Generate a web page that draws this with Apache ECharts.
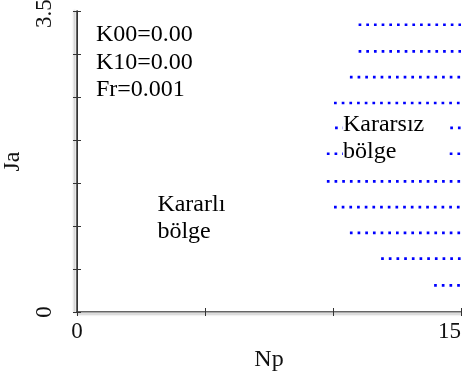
<!DOCTYPE html>
<html>
<head>
<meta charset="utf-8">
<script src="https://cdn.jsdelivr.net/npm/echarts@6/dist/echarts.min.js"></script>
<style>
  html, body { margin: 0; padding: 0; background: #fff; }
  #main { width: 462px; height: 379px; }
</style>
</head>
<body>
<div id="main"></div>
<script>
// Ja levels of the unstable rows and the Np where each row starts
const jaLevels = [0.31, 0.62, 0.92, 1.22, 1.52, 1.84, 2.14, 2.43, 2.73, 3.03, 3.34];
const npStart = [13.95, 11.88, 10.66, 10.04, 9.76, 9.76, 10.08, 10.04, 10.66, 11.0, 11.0];
const npEnd = 15;

const xTicks = [0, 15];
const yTicks = [0, 3.5];

// text notes: [Np, Ja, text, right padding of white box]
const notes = [
  [0.74, 3.38, 'K00=0.00\nK10=0.00\nFr=0.001', 0],
  [3.14, 1.41, 'Kararlı\nbölge', 0],
  [10.39, 2.34, 'Kararsız\nbölge', 24]
];

const serif = 'Liberation Serif';

let rows = jaLevels.map(function (ja, i) {
  return {
    type: 'line',
    silent: true,
    symbol: 'none',
    data: [[npStart[i], ja], [npEnd, ja]],
    lineStyle: { color: '#0000ff', width: 2.7, type: [2.7, 4.98], cap: 'butt' },
    z: 2
  };
});

var myChart = echarts.init(document.getElementById('main'));

var option = {
  animation: false,
  backgroundColor: '#fff',
  grid: { left: 77, right: 1, top: 11, bottom: 67, outerBoundsMode: 'none', containLabel: false },
  xAxis: [
    {
      type: 'value',
      min: 0,
      max: 15,
      interval: 5,
      position: 'bottom',
      name: 'Np',
      nameLocation: 'middle',
      nameGap: 36,
      nameTextStyle: { fontFamily: serif, fontSize: 24, color: '#111' },
      axisLine: {
        show: true,
        lineStyle: { color: '#333', width: 1.5, shadowColor: '#bbb', shadowOffsetY: 2, shadowBlur: 2 }
      },
      axisTick: { show: true, inside: true, length: 4, lineStyle: { color: '#333' } },
      axisLabel: {
        margin: 8,
        fontFamily: serif,
        fontSize: 23,
        color: '#111',
        alignMaxLabel: 'right',
        formatter: function (v) { return xTicks.indexOf(v) >= 0 ? String(v) : ''; }
      },
      splitLine: { show: false }
    },
    {
      type: 'value',
      min: 0,
      max: 15,
      interval: 5,
      position: 'top',
      axisLine: { show: true, lineStyle: { color: '#aaa', width: 1 } },
      axisTick: { show: true, inside: true, length: 4, lineStyle: { color: '#333' } },
      axisLabel: { show: false },
      splitLine: { show: false }
    }
  ],
  yAxis: [
    {
      type: 'value',
      min: 0,
      max: 3.5,
      interval: 0.5,
      position: 'left',
      name: 'Ja',
      nameLocation: 'middle',
      nameGap: 46,
      nameRotate: 90,
      nameTextStyle: { fontFamily: serif, fontSize: 24, color: '#111' },
      axisLine: {
        show: true,
        lineStyle: { color: '#333', width: 1.5, shadowColor: '#bbb', shadowOffsetX: -2.5, shadowBlur: 2 }
      },
      axisTick: { show: true, inside: true, length: 4, lineStyle: { color: '#333' } },
      axisLabel: {
        rotate: 90,
        margin: 21,
        fontFamily: serif,
        fontSize: 23,
        color: '#111',
        formatter: function (v) {
          if (v === yTicks[1]) return '{top|' + v + '}';
          return yTicks.indexOf(v) >= 0 ? String(v) : '';
        },
        rich: {
          top: { fontFamily: serif, fontSize: 23, color: '#111', padding: [0, 5, 0, 0] }
        }
      },
      splitLine: { show: false }
    },
    {
      type: 'value',
      min: 0,
      max: 3.5,
      interval: 0.5,
      position: 'right',
      axisLine: { show: true, lineStyle: { color: '#333', width: 1 } },
      axisTick: { show: true, inside: true, length: 4, lineStyle: { color: '#333' } },
      axisLabel: { show: false },
      splitLine: { show: false }
    }
  ],
  series: rows
};
myChart.setOption(option);

// place the text notes at their data positions
myChart.setOption({
  graphic: notes.map(function (n) {
    var p = myChart.convertToPixel({ gridIndex: 0 }, [n[0], n[1]]);
    return {
      type: 'text',
      x: p[0],
      y: p[1],
      z: 100,
      silent: true,
      style: {
        text: n[2],
        fontFamily: serif,
        fontSize: 24,
        lineHeight: 27.5,
        fill: '#000',
        align: 'left',
        verticalAlign: 'top',
        backgroundColor: '#fff',
        padding: [0, n[3], 0, 0]
      }
    };
  })
});
</script>
</body>
</html>
